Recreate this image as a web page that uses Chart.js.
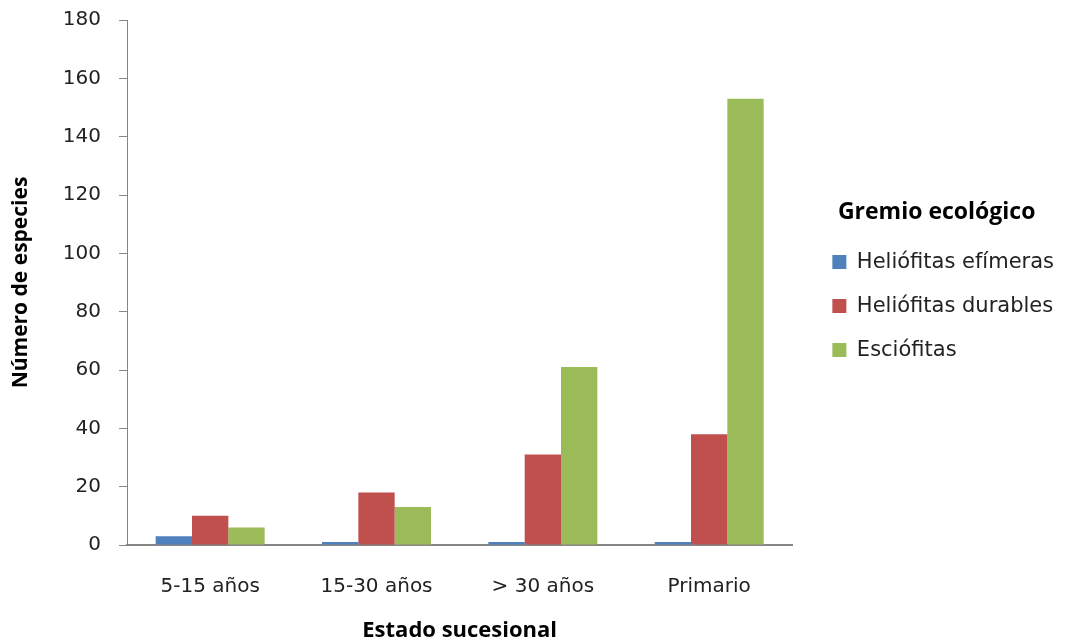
<!DOCTYPE html>
<html>
<head>
<meta charset="utf-8">
<script src="https://cdn.jsdelivr.net/npm/chart.js@4/dist/chart.umd.min.js"></script>
<style>
  html, body { margin: 0; padding: 0; background: #fff; }
  #wrap { width: 1073px; height: 644px; }
</style>
</head>
<body>
<div id="wrap"><canvas id="myChart" width="1073" height="644"></canvas></div>
<script>
const estados = ["5-15 años", "15-30 años", "> 30 años", "Primario"];
const efimeras = [3, 1, 1, 1];
const durables = [10, 18, 31, 38];
const esciofitas = [6, 13, 61, 153];
const ticksY = [0, 20, 40, 60, 80, 100, 120, 140, 160, 180];

const fuenteTicks = "'DejaVu Sans', sans-serif";
const fuenteTitulo = "'Open Sans', 'DejaVu Sans', sans-serif";
const gris = "#868686";

// la leyenda queda un poco separada del area del grafico, como en Excel
const moverLeyenda = {
  id: "moverLeyenda",
  afterLayout(chart) {
    const dx = 17;
    chart.legend.left += dx;
    chart.legend.right += dx;
  },
};

const config = {
  type: "bar",
  data: {
    labels: estados,
    datasets: [
      { label: "Heliófitas efímeras", data: efimeras, backgroundColor: "#4f81bd" },
      { label: "Heliófitas durables", data: durables, backgroundColor: "#c0504d" },
      { label: "Esciófitas", data: esciofitas, backgroundColor: "#9bbb59" },
    ],
  },
  options: {
    responsive: false,
    animation: false,
    layout: { padding: { top: 20, left: 0, right: 26, bottom: 0 } },
    datasets: {
      bar: { categoryPercentage: 0.655, barPercentage: 1.0 },
    },
    plugins: {
      tooltip: { enabled: false },
      legend: {
        position: "right",
        align: "start",
        title: {
          display: true,
          text: "Gremio ecológico",
          color: "#000",
          font: { family: fuenteTitulo, size: 23, weight: "bold" },
          padding: { top: 181, bottom: 0 },
        },
        labels: {
          color: "#222",
          font: { family: fuenteTicks, size: 21 },
          boxWidth: 14,
          boxHeight: 14,
          padding: 23,
        },
      },
    },
    scales: {
      x: {
        afterFit: (scale) => {
          scale.height = 99;
        },
        grid: { display: true, drawOnChartArea: false, drawTicks: false, color: gris },
        border: { color: gris, width: 2 },
        ticks: { color: "#222", font: { family: fuenteTicks, size: 20 }, padding: 30 },
        title: {
          display: true,
          text: "Estado sucesional",
          color: "#000",
          font: { family: fuenteTitulo, size: 22, weight: "bold" },
          padding: { top: 0, bottom: 0 },
        },
      },
      y: {
        min: 0,
        max: 180,
        afterBuildTicks: (axis) => {
          axis.ticks = ticksY.map((v) => ({ value: v }));
        },
        afterFit: (scale) => {
          scale.width = 127;
          scale.paddingTop = 0;
          scale.paddingBottom = 0;
        },
        grid: { display: true, drawOnChartArea: false, drawTicks: true, tickLength: 8, color: gris },
        border: { color: gris, width: 1 },
        ticks: { color: "#222", font: { family: fuenteTicks, size: 20 }, padding: 18 },
        title: {
          display: true,
          text: "Número de especies",
          color: "#000",
          font: { family: fuenteTitulo, size: 21, weight: "bold" },
          padding: { top: 8, bottom: 0 },
        },
      },
    },
  },
  plugins: [moverLeyenda],
};

new Chart(document.getElementById("myChart").getContext("2d"), config);
</script>
</body>
</html>
